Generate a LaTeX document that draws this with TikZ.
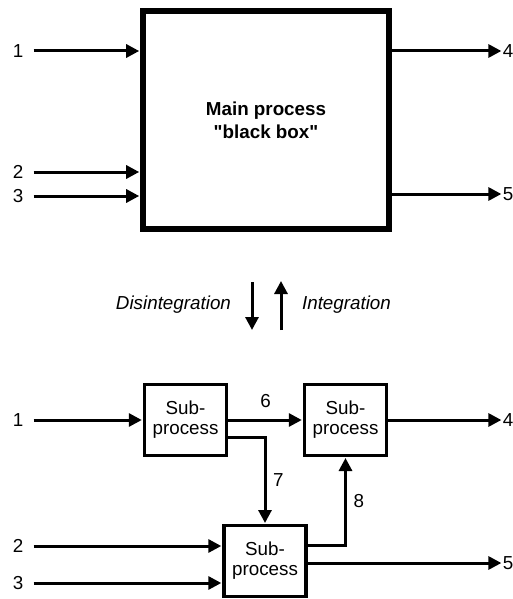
\documentclass[tikz,border=0pt]{standalone}
\usepackage{fontspec}
\setmainfont{Liberation Sans}[Ligatures=TeXOff]
\usetikzlibrary{arrows.meta,positioning}

\tikzset{
  box/.style={draw,line width=2.8pt,minimum width=123pt,minimum height=109pt,
    align=center,font=\fontsize{9.4}{11.5}\selectfont\bfseries},
  sub/.style={draw,line width=1.7pt,minimum width=41pt,minimum height=35.3pt,
    inner sep=0pt,align=center,font=\fontsize{9.4}{10}\selectfont},
  port/.style={inner sep=0pt},
  note/.style={font=\fontsize{9.4}{11}\selectfont\itshape},
  flow/.style={->,line width=1.5pt},
  feed/.style={flow,shorten <=5pt},
}

\begin{document}
\begin{tikzpicture}[x=0.5pt,y=-0.5pt,>={Triangle[length=6.5pt,width=6.5pt]},
  shorten >=0.5pt,font=\fontsize{9.4}{11}\selectfont,on grid]
   \useasboundingbox (0,0) rectangle (513,599);

   % black box
   \node[box] (m) at (266,120) {Main process\\"black box"};
   \node[port] (t_1) at (18,51)  {1};
   \node[port] (t_2) at (18,172) {2};
   \node[port] (t_3) at (18,196) {3};
   \node[port] (t_4) at (508,51)  {4};
   \node[port] (t_5) at (508,194) {5};
   \draw[feed] (t_1) -- (t_1 -| m.west);
   \draw[feed] (t_2) -- (t_2 -| m.west);
   \draw[feed] (t_3) -- (t_3 -| m.west);
   \draw[flow] (m.east |- t_4) -- (t_4);
   \draw[flow] (m.east |- t_5) -- (t_5);

   % disintegration / integration
   \coordinate (d_1) at (252,282);
   \coordinate (d_2) at (252,331);
   \coordinate (u_1) at (281,330);
   \coordinate (u_2) at (281,280);
   \draw[flow] (d_1) -- (d_2);
   \draw[flow] (u_1) -- (u_2);
   \node[note,anchor=east] (dis) at (238,305) {Disintegration};
   \node[note,anchor=west] (int) at (295,305) {Integration};

   % sub-processes
   \node[sub] (s_1) at (185.5,420) {Sub-\\process};
   \node[sub] (s_2) [right=80pt of s_1] {Sub-\\process};
   \node[sub] (s_3) [below right=70.5pt and 39.75pt of s_1] {Sub-\\process};
   \node[port] (b_1) at (18,420)  {1};
   \node[port] (b_2) at (18,546)  {2};
   \node[port] (b_3) at (18,583)  {3};
   \node[port] (b_4) at (508,420) {4};
   \node[port] (b_5) at (508,563) {5};
   \draw[feed] (b_1) -- (b_1 -| s_1.west);
   \draw[feed] (b_2) -- (b_2 -| s_3.west);
   \draw[feed] (b_3) -- (b_3 -| s_3.west);
   \draw[flow] (s_1) -- node[above,yshift=2pt] {6} (s_2);
   \draw[flow] ([yshift=-8.5pt]s_1.east) -| node[pos=0.75,right] {7} (s_3);
   \draw[flow] ([yshift=8pt]s_3.east) -| node[pos=0.75,right] {8} (s_2);
   \draw[flow] (s_2) -- (b_4);
   \draw[flow] (s_3.east |- b_5) -- (b_5);
\end{tikzpicture}
\end{document}
